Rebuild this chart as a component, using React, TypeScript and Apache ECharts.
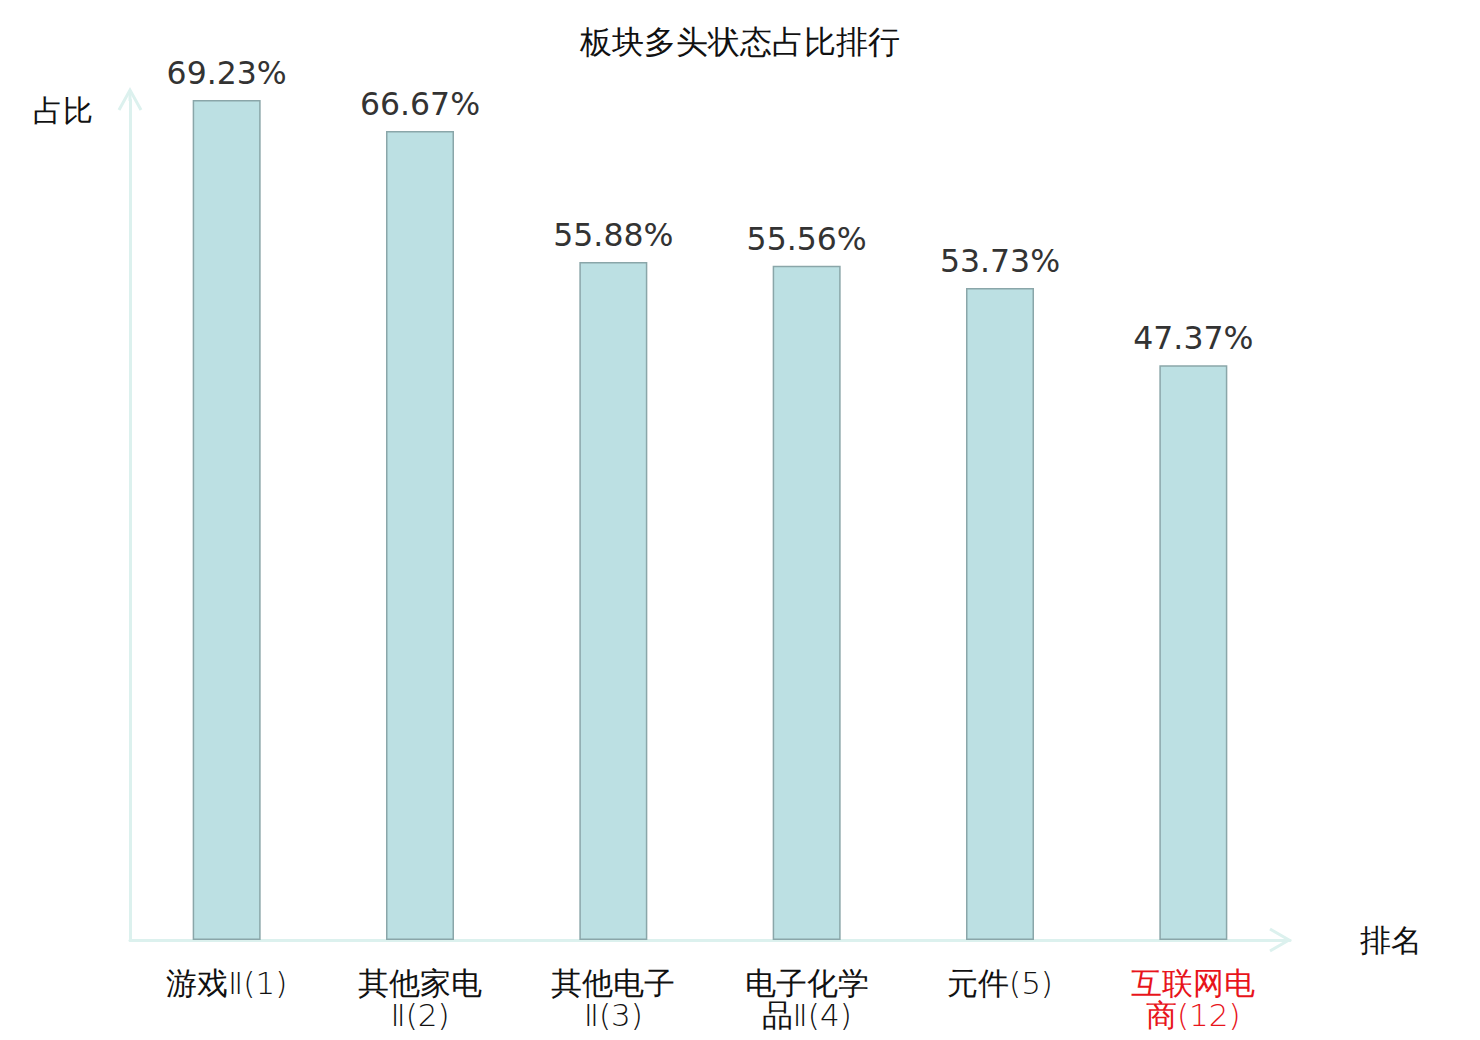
import React, { useEffect, useRef } from "react";
import * as echarts from "echarts";

const titleText = "板块多头状态占比排行";
const sectorNames = ["游戏Ⅱ", "其他家电Ⅱ", "其他电子Ⅱ", "电子化学品Ⅱ", "元件", "互联网电商"];
const sectorRanks = [1, 2, 3, 4, 5, 12];
const bullRatios = [69.23, 66.67, 55.88, 55.56, 53.73, 47.37];
const yAxisName = "占比";
const xAxisName = "排名";
const highlightIndex = 5;

const categories = sectorNames.map((n, i) => `${n}(${sectorRanks[i]})`);

// wrap after the first 4 characters when the name is long (as in the reference)
const wrapLabel = (v: string) => {
  const cut = v.indexOf("(");
  const name = v.slice(0, cut);
  return name.length > 4 ? v.slice(0, 4) + "\n" + v.slice(4) : v;
};

export default function App() {
  const ref = useRef<HTMLDivElement>(null);
  useEffect(() => {
    document.body.style.margin = "0";
    const chart = echarts.init(ref.current!, undefined, { renderer: "svg" });
    const axisColor = "#dcf1ee";
    const fam = "DejaVu Sans";
    chart.setOption({
      animation: false,
      backgroundColor: "#ffffff",
      title: {
        text: titleText,
        left: "center",
        top: 21,
        textStyle: { fontSize: 32, fontWeight: "normal", color: "#111", fontFamily: fam },
      },
      grid: { left: 130, right: 190, top: 100, bottom: 100, outerBoundsMode: "none" },
      xAxis: {
        type: "category",
        data: categories,
        name: xAxisName,
        nameLocation: "end",
        nameGap: 70,
        nameTextStyle: { fontSize: 31, color: "#111", verticalAlign: "middle", fontFamily: fam },
        axisLine: { show: true, lineStyle: { color: axisColor, width: 3 } },
        axisTick: { show: false },
        axisLabel: {
          interval: 0,
          fontSize: 31,
          lineHeight: 32,
          margin: 27,
          fontFamily: fam,
          fontWeight: 200,
          formatter: wrapLabel,
          color: (_v: any, i: number) => (i === highlightIndex ? "#e8141b" : "#111"),
        },
      },
      yAxis: {
        type: "value",
        min: 0,
        max: "dataMax",
        name: yAxisName,
        nameLocation: "end",
        nameGap: -10,
        nameTextStyle: {
          fontSize: 30,
          color: "#111",
          fontFamily: fam,
          align: "right",
          verticalAlign: "middle",
          padding: [0, 37, 0, 0],
        },
        axisLine: { show: true, lineStyle: { color: axisColor, width: 3 } },
        axisTick: { show: false },
        axisLabel: { show: false },
        splitLine: { show: false },
      },
      series: [
        {
          type: "bar",
          data: bullRatios,
          barWidth: 68,
          itemStyle: { color: "#bce0e3", borderColor: "#8aa6a9", borderWidth: 1.5 },
          label: {
            show: true,
            position: "top",
            distance: 11,
            fontSize: 31.5,
            fontFamily: fam,
            color: "#333",
            formatter: (p: any) => `${p.value}%`,
          },
        },
      ],
      graphic: [
        {
          type: "line",
          shape: { x1: 130, y1: 101, x2: 130, y2: 90 },
          style: { stroke: axisColor, lineWidth: 3 },
        },
        {
          type: "polyline",
          shape: { points: [[119, 110], [130, 90], [141, 110]] },
          style: { stroke: axisColor, lineWidth: 3, fill: null },
        },
        {
          type: "polyline",
          shape: { points: [[1270, 929], [1289, 940], [1270, 951]] },
          style: { stroke: axisColor, lineWidth: 3, fill: null },
        },
      ],
    });
    return () => chart.dispose();
  }, []);
  return <div ref={ref} style={{ width: 1480, height: 1040 }} />;
}
